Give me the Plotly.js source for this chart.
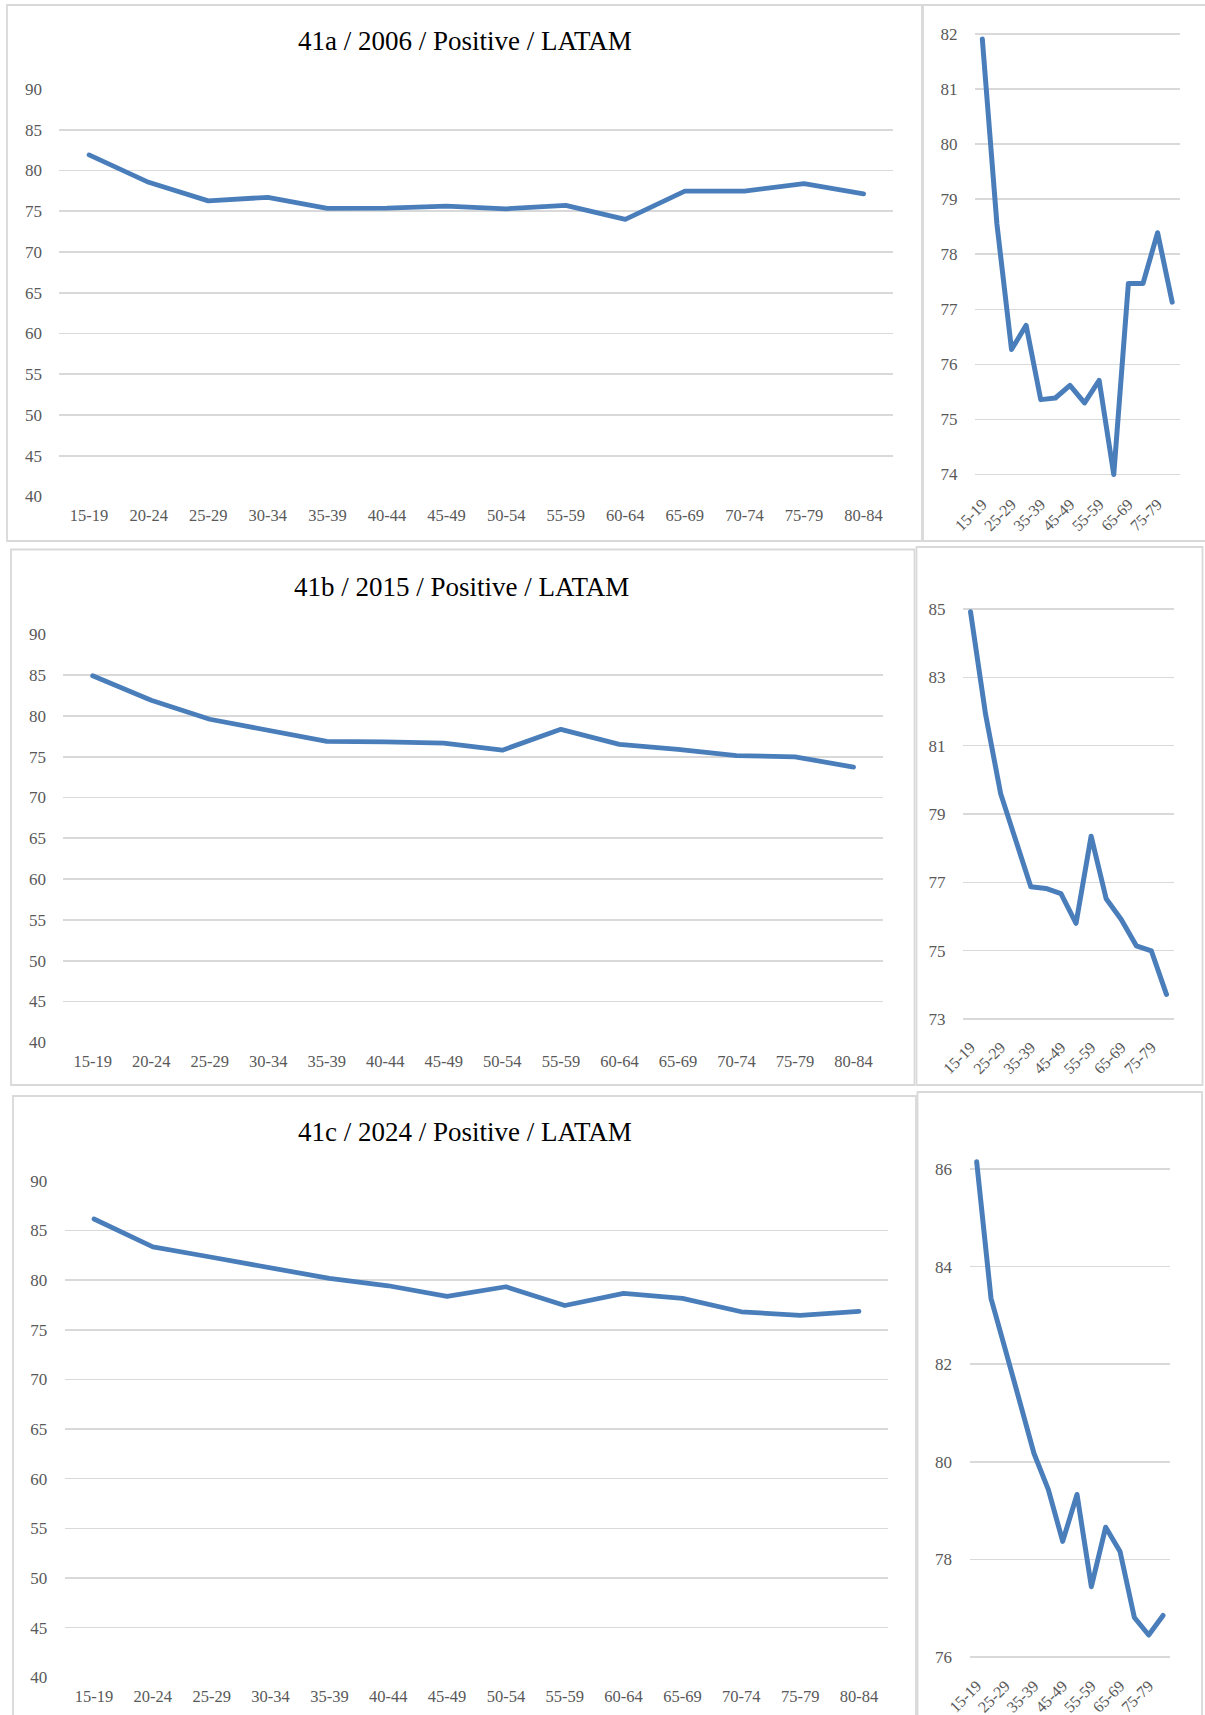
<!DOCTYPE html>
<html>
<head>
<meta charset="utf-8">
<script src="https://cdn.plot.ly/plotly-3.0.1.min.js"></script>
<style>
  html, body { margin: 0; padding: 0; background: #ffffff; }
  #chart { width: 1205px; height: 1715px; }
  #chart path.js-line { stroke-linejoin: round !important; stroke-linecap: round !important; }
</style>
</head>
<body>
<div id="chart"></div>
<script>
// ---------------- DATA ----------------
const ageGroups = ['15-19','20-24','25-29','30-34','35-39','40-44','45-49','50-54','55-59','60-64','65-69','70-74','75-79','80-84'];
const values2006 = [81.91, 78.55, 76.27, 76.71, 75.36, 75.39, 75.62, 75.30, 75.71, 74.00, 77.47, 77.47, 78.39, 77.13];
const values2015 = [84.92, 81.91, 79.59, 78.20, 76.87, 76.82, 76.67, 75.80, 78.35, 76.52, 75.91, 75.14, 74.99, 73.72];
const values2024 = [86.15, 83.35, 82.30, 81.20, 80.17, 79.43, 78.37, 79.33, 77.44, 78.66, 78.16, 76.81, 76.45, 76.85];
const chartTitles = ['41a / 2006 / Positive / LATAM', '41b / 2015 / Positive / LATAM', '41c / 2024 / Positive / LATAM'];
const seriesList = [values2006, values2015, values2024];
const mainYTicks = [40, 45, 50, 55, 60, 65, 70, 75, 80, 85, 90];
const zoomYTicks = [[74, 75, 76, 77, 78, 79, 80, 81, 82], [73, 75, 77, 79, 81, 83, 85], [76, 78, 80, 82, 84, 86]];

// ---------------- LAYOUT HELPERS ----------------
const W = 1205, H = 1715;
const FONT = "'Liberation Serif', 'Times New Roman', Times, serif";
const LINE_COLOR = '#4a7ebb';
const GRID = '#d9d9d9';
const TICK_COLOR = '#595959';

// pixel boxes for each plot (left, right, top, bottom) and y ranges
const mainBoxes = [
  {l: 59.3, r: 893.4, t: 89.0, b: 496.5, range: [40, 90]},
  {l: 63.4, r: 882.8, t: 634.3, b: 1042.3, range: [40, 90]},
  {l: 64.6, r: 888.4, t: 1180.8, b: 1677.3, range: [40, 90]}
];
const zoomBoxes = [
  {l: 975.0, r: 1179.5, t: 25.7, b: 482.8, range: [73.85, 82.15]},
  {l: 963.0, r: 1174.0, t: 602.2, b: 1025.8, range: [72.8, 85.2]},
  {l: 969.5, r: 1170.2, t: 1149.5, b: 1664.3, range: [75.85, 86.4]}
];
const titlePos = [[465, 41.5], [461.5, 587], [465, 1132]];
const frames = [
  [7, 922, 5, 541], [923, 1210, 5, 541],
  [11, 914.5, 549.5, 1085], [916.5, 1202.5, 547, 1085],
  [13, 916, 1096, 1725], [917.5, 1202, 1092, 1725]
];

const px2x = v => v / W;
const px2y = v => 1 - v / H;

const data = [];
const layout = {
  width: W, height: H,
  margin: {l: 0, r: 0, t: 0, b: 0},
  paper_bgcolor: '#ffffff',
  plot_bgcolor: 'rgba(0,0,0,0)',
  showlegend: false,
  font: {family: FONT, color: TICK_COLOR},
  shapes: [],
  annotations: []
};

let axisIndex = 1;
function addPlot(box, yvals, ytickvals, isZoom) {
  const n = axisIndex++;
  const xa = n === 1 ? 'xaxis' : 'xaxis' + n;
  const ya = n === 1 ? 'yaxis' : 'yaxis' + n;
  const xr = n === 1 ? 'x' : 'x' + n;
  const yr = n === 1 ? 'y' : 'y' + n;
  const evenGroups = ageGroups.filter((g, i) => i % 2 === 0);
  data.push({
    type: 'scatter', mode: 'lines',
    x: ageGroups, y: yvals,
    xaxis: xr, yaxis: yr,
    line: {color: LINE_COLOR, width: isZoom ? 5 : 4.8, shape: 'linear'},
    hoverinfo: 'skip'
  });
  layout[xa] = {
    domain: [px2x(box.l), px2x(box.r)],
    anchor: yr,
    type: 'category',
    range: [-0.5, ageGroups.length - 0.5],
    showgrid: false, zeroline: false, showline: false,
    ticks: 'outside', tickcolor: 'rgba(0,0,0,0)',
    ticklen: isZoom ? 5 : 4,
    tickvals: isZoom ? evenGroups : ageGroups,
    ticktext: isZoom ? evenGroups : ageGroups,
    tickangle: isZoom ? -45 : 0,
    tickfont: {family: FONT, size: isZoom ? 16 : 16.5, color: TICK_COLOR},
    fixedrange: true
  };
  layout[ya] = {
    domain: [px2y(box.b), px2y(box.t)],
    anchor: xr,
    range: box.range,
    tickmode: 'array',
    tickvals: ytickvals,
    ticktext: ytickvals.map(String),
    showgrid: true, gridcolor: GRID, gridwidth: 1.6,
    zeroline: false, showline: false,
    ticks: 'outside', tickcolor: 'rgba(0,0,0,0)', ticklen: 13,
    tickfont: {family: FONT, size: 17, color: TICK_COLOR},
    fixedrange: true
  };
}

for (let i = 0; i < 3; i++) {
  addPlot(mainBoxes[i], seriesList[i], mainYTicks, false);
  addPlot(zoomBoxes[i], seriesList[i], zoomYTicks[i], true);
  layout.annotations.push({
    text: chartTitles[i],
    xref: 'paper', yref: 'paper',
    x: px2x(titlePos[i][0]), y: px2y(titlePos[i][1]),
    xanchor: 'center', yanchor: 'middle',
    showarrow: false,
    font: {family: FONT, size: 27, color: '#000000'}
  });
}

frames.forEach(f => {
  layout.shapes.push({
    type: 'rect', xref: 'paper', yref: 'paper', layer: 'below',
    x0: px2x(f[0]), x1: px2x(f[1]), y0: px2y(f[3]), y1: px2y(f[2]),
    line: {color: GRID, width: 1.8}, fillcolor: 'rgba(0,0,0,0)'
  });
});

Plotly.newPlot('chart', data, layout, {staticPlot: true, displayModeBar: false});
</script>
</body>
</html>
